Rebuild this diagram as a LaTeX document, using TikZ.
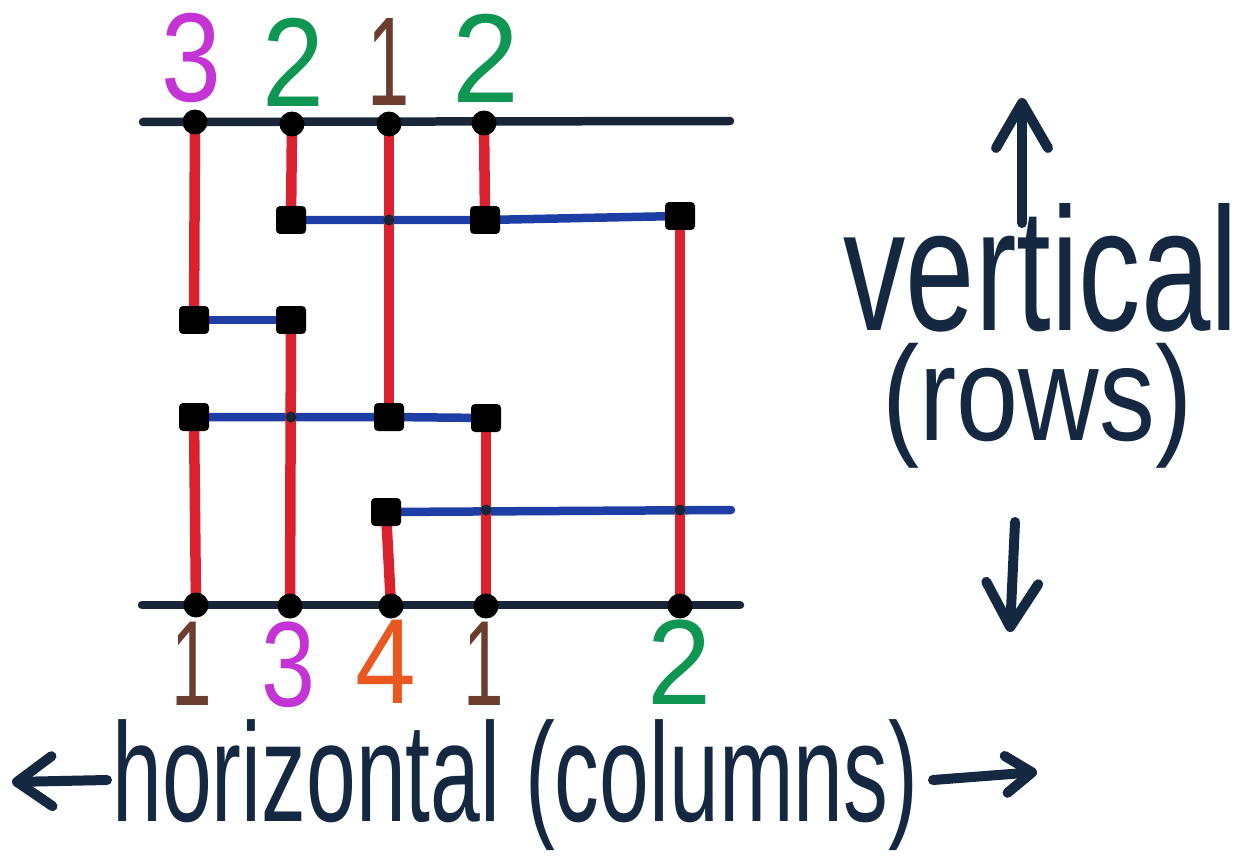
\documentclass[tikz,border=0pt]{standalone}
\usepackage{fontspec}
\setmainfont{Liberation Sans}
\usepackage{graphicx}
\usetikzlibrary{arrows.meta}
\pgfdeclarelayer{bg}
\pgfsetlayers{bg,main}
\definecolor{penred}{RGB}{218,34,46}
\definecolor{penblue}{RGB}{28,62,165}
\definecolor{navy}{RGB}{24,38,58}
\definecolor{ink}{RGB}{20,40,66}
\definecolor{pmag}{RGB}{196,52,212}
\definecolor{pgreen}{RGB}{14,150,82}
\definecolor{pbrown}{RGB}{108,60,46}
\definecolor{porange}{RGB}{232,88,32}
\newcommand\dig[2]{\scalebox{#1}[1]{\fontsize{72pt}{72pt}\selectfont #2}}
\newcommand\bdig[2]{\scalebox{#1}[1]{\fontsize{69pt}{69pt}\selectfont #2}}
\begin{document}
\begin{tikzpicture}[x=0.02cm,y=-0.02cm,
  dot/.style={circle,fill=black,inner sep=0pt,minimum size=0.5cm},
  sq/.style={rectangle,rounded corners=0.08cm,fill=black,inner sep=0pt,minimum width=0.6cm,minimum height=0.56cm},
  redl/.style={draw=penred,line width=0.21cm},
  bluel/.style={draw=penblue,line width=0.17cm,line cap=round},
  rail/.style={draw=navy,line width=0.17cm,line cap=round},
  knot/.style={circle,fill=navy,inner sep=0pt,minimum size=0.22cm},
  num/.style={inner sep=0pt},
  lbl/.style={inner sep=0pt,text=ink},
  arr/.style={draw=ink,line width=0.2cm,line cap=round}]
\useasboundingbox (0,0) rectangle (1250,858);

% rail end points
\coordinate (tl) at (143,122);
\coordinate (tr) at (730,121);
\coordinate (bl) at (142,605);
\coordinate (br) at (740,605);
\coordinate (eI) at (731,510);

% top dots
\node[dot] (t1) at (195,122) {};
\node[dot] (t2) at (292,124) {};
\node[dot] (t3) at (389,124) {};
\node[dot] (t4) at (484,123) {};
% bottom dots
\node[dot] (b1) at (196,605) {};
\node[dot] (b2) at (290,606) {};
\node[dot] (b3) at (391,606) {};
\node[dot] (b4) at (486,606) {};
\node[dot] (b5) at (680,606) {};

% squares
\node[sq] (sA) at (291,220) {};
\node[sq] (sB) at (485,220) {};
\node[sq] (sC) at (680,216) {};
\node[sq] (sD) at (194,320) {};
\node[sq] (sE) at (291,320) {};
\node[sq] (sF) at (194,417) {};
\node[sq] (sG) at (389,417) {};
\node[sq] (sH) at (486,418) {};
\node[sq] (sI) at (386,512) {};

% crossing knots
\node[knot] (k1) at (389,220) {};
\node[knot] (k2) at (291,417) {};
\node[knot] (k3) at (486,510) {};
\node[knot] (k4) at (680,510) {};

\begin{pgfonlayer}{bg}
  \draw[rail] (tl) -- (tr);
  \draw[rail] (bl) -- (br);
  \draw[bluel] (sA.center) -- (sB.center) -- (sC.center);
  \draw[bluel] (sD.center) -- (sE.center);
  \draw[bluel] (sF.center) -- (sG.center) -- (sH.center);
  \draw[bluel] (sI.center) -- (eI);
  \draw[redl] (t1.center) -- (sD.center);
  \draw[redl] (sF.center) -- (b1.center);
  \draw[redl] (t2.center) -- (sA.center);
  \draw[redl] (sE.center) -- (b2.center);
  \draw[redl] (t3.center) -- (sG.center);
  \draw[redl] (t4.center) -- (sB.center);
  \draw[redl] (sH.center) -- (b4.center);
  \draw[redl] (sC.center) -- (b5.center);
  \draw[redl] (sI.center) -- (b3.center);
\end{pgfonlayer}

% top numbers
\node[num,text=pmag]   (n1) at (191,58) {\dig{0.85}{3}};
\node[num,text=pgreen] (n2) at (293,62) {\dig{0.88}{2}};
\node[num,text=pbrown] (n3) at (389,62) {\dig{0.6}{1}};
\node[num,text=pgreen] (n4) at (486,58) {\dig{0.95}{2}};
% bottom numbers
\node[num,text=pbrown]  (m1) at (192,664) {\bdig{0.6}{1}};
\node[num,text=pmag]    (m2) at (288,665) {\bdig{0.8}{3}};
\node[num,text=porange] (m3) at (386,662) {\bdig{0.9}{4}};
\node[num,text=pbrown]  (m4) at (484,664) {\bdig{0.6}{1}};
\node[num,text=pgreen]  (m5) at (680,662) {\bdig{0.95}{2}};

% words
\node[lbl,anchor=base west] (vert) at (843,330) {\resizebox{7.9cm}{2.54cm}{vertical}};
\node[lbl,anchor=north west] (rows) at (882,343) {\resizebox*{6.2cm}{2.5cm}{(rows)}};
\node[lbl,anchor=north west] (horiz) at (112,719) {\resizebox*{16.12cm}{2.62cm}{horizontal (columns)}};

% arrows
\coordinate (ua0) at (1022,223);
\coordinate (ua1) at (1022,98);
\coordinate (da0) at (1015,522);
\coordinate (da1) at (1010,632);
\coordinate (la0) at (107,780);
\coordinate (la1) at (12,782);
\coordinate (ra0) at (933,780);
\coordinate (ra1) at (1037,772);
\draw[arr,-{Straight Barb[length=0.9cm,width=1.04cm,round]}] (ua0) -- (ua1);
\draw[arr,-{Straight Barb[length=0.88cm,width=1.04cm,round]}] (da0) -- (da1);
\draw[arr,-{Straight Barb[length=0.7cm,width=1.0cm,round]}] (la0) -- (la1);
\draw[arr,-{Straight Barb[length=0.52cm,width=0.74cm,round]}] (ra0) -- (ra1);
\end{tikzpicture}
\end{document}
